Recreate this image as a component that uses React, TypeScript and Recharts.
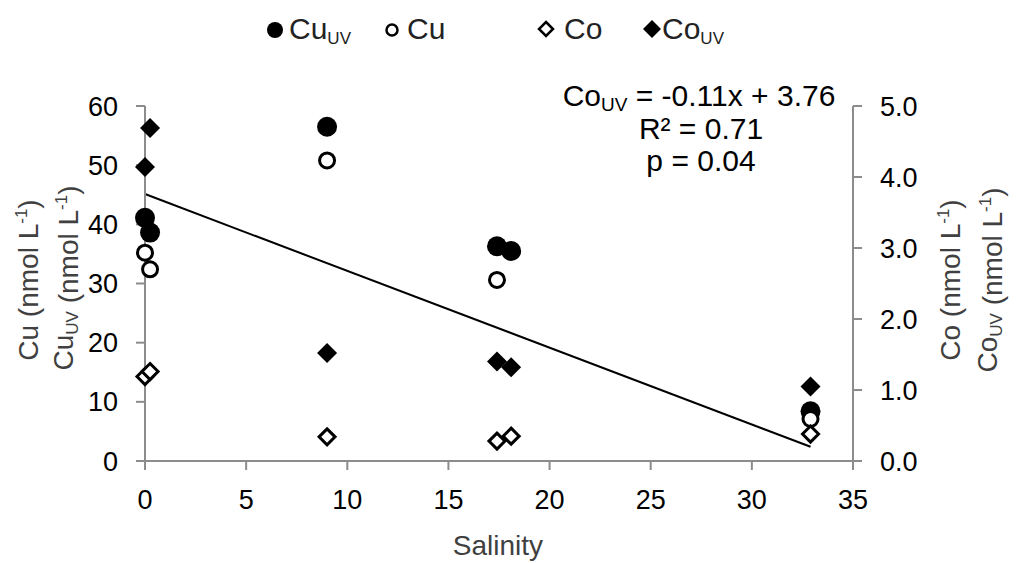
import { ScatterChart, Scatter, XAxis, YAxis, ReferenceLine } from 'recharts';

const FONT = '"Liberation Sans", Arial, sans-serif';

// salinity (x) and concentrations
const cuUvSal = [0, 0.25, 9.0, 17.4, 18.1, 32.9];
const cuUvVal = [41.1, 38.6, 56.5, 36.3, 35.5, 8.4];
const cuSal = [0, 0.25, 9.0, 17.4, 32.9];
const cuVal = [35.2, 32.4, 50.8, 30.6, 7.1];
const coSal = [0, 0.25, 9.0, 17.4, 18.1, 32.9];
const coVal = [1.19, 1.26, 0.34, 0.28, 0.35, 0.38];
const coUvSal = [0, 0.25, 9.0, 17.4, 18.1, 32.9];
const coUvVal = [4.14, 4.69, 1.52, 1.4, 1.32, 1.05];

// Co_UV trendline ends
const trendSal = [0, 32.9];
const trendVal = [3.76, 0.2];

const xTicks = [0, 5, 10, 15, 20, 25, 30, 35];
const cuTicks = [0, 10, 20, 30, 40, 50, 60];
const coTicks = [0, 1, 2, 3, 4, 5];

const pts = (xs: number[], ys: number[]) => xs.map((x, i) => ({ x, y: ys[i] }));

const cuUvData = pts(cuUvSal, cuUvVal);
const cuData = pts(cuSal, cuVal);
const coData = pts(coSal, coVal);
const coUvData = pts(coUvSal, coUvVal);

const filledCircle = (p: any) => <circle cx={p.cx} cy={p.cy} r={10} fill="#000" />;
const openCircle = (p: any) => (
  <circle cx={p.cx} cy={p.cy} r={7.5} fill="#fff" stroke="#000" strokeWidth={3} />
);
const diamond = (cx: number, cy: number, h: number) =>
  `${cx},${cy - h} ${cx + h},${cy} ${cx},${cy + h} ${cx - h},${cy}`;
const filledDiamond = (p: any) => <polygon points={diamond(p.cx, p.cy, 10)} fill="#000" />;
const openDiamond = (p: any) => (
  <polygon points={diamond(p.cx, p.cy, 8)} fill="#fff" stroke="#000" strokeWidth={3} />
);

const axisStroke = { stroke: '#8c8c8c', strokeWidth: 2 };
const tickStyle = { fill: '#000', fontSize: 27, fontFamily: FONT };

const Unit = () => (
  <>
    {' (nmol L'}
    <tspan fontSize={17} dy={-11}>-1</tspan>
    <tspan dy={11}>)</tspan>
  </>
);

export default function App() {
  return (
    <div style={{ position: 'absolute', left: 0, top: 0, width: 1018, height: 563, background: '#fff' }}>
      <ScatterChart width={1018} height={563} margin={{ top: 106, right: 85, bottom: 52, left: 65 }}>
        <XAxis
          type="number"
          dataKey="x"
          domain={[0, 35]}
          ticks={xTicks}
          height={50}
          tickSize={9}
          tickMargin={20}
          axisLine={axisStroke}
          tickLine={axisStroke}
          tick={tickStyle}
        />
        <YAxis
          yAxisId="cu"
          type="number"
          dataKey="y"
          domain={[0, 60]}
          ticks={cuTicks}
          width={80}
          tickSize={9}
          tickMargin={18}
          axisLine={axisStroke}
          tickLine={axisStroke}
          tick={tickStyle}
        />
        <YAxis
          yAxisId="co"
          orientation="right"
          type="number"
          dataKey="y"
          domain={[0, 5]}
          ticks={coTicks}
          width={80}
          tickSize={9}
          tickMargin={18}
          tickFormatter={(v: number) => v.toFixed(1)}
          axisLine={axisStroke}
          tickLine={axisStroke}
          tick={{ ...tickStyle, textAnchor: 'start' }}
        />
        <ReferenceLine
          yAxisId="co"
          segment={[
            { x: trendSal[0], y: trendVal[0] },
            { x: trendSal[1], y: trendVal[1] },
          ]}
          stroke="#000"
          strokeWidth={2}
        />
        <Scatter yAxisId="cu" data={cuUvData} shape={filledCircle} isAnimationActive={false} />
        <Scatter yAxisId="cu" data={cuData} shape={openCircle} isAnimationActive={false} />
        <Scatter yAxisId="co" data={coData} shape={openDiamond} isAnimationActive={false} />
        <Scatter yAxisId="co" data={coUvData} shape={filledDiamond} isAnimationActive={false} />
      </ScatterChart>

      <svg
        width={1018}
        height={563}
        style={{ position: 'absolute', left: 0, top: 0, pointerEvents: 'none' }}
        fontFamily={FONT}
      >
        {/* legend */}
        <g fontSize={30} fill="#222">
          <circle cx={275} cy={30} r={8} fill="#000" />
          <text x={289} y={39}>
            Cu<tspan fontSize={17} dy={5}>UV</tspan>
          </text>
          <circle cx={392} cy={30} r={5.5} fill="#fff" stroke="#000" strokeWidth={2.5} />
          <text x={407} y={39}>Cu</text>
          <polygon points={diamond(546, 29, 7)} fill="#fff" stroke="#000" strokeWidth={2.5} />
          <text x={564} y={39}>Co</text>
          <polygon points={diamond(652, 29, 9)} fill="#000" />
          <text x={662} y={39}>
            Co<tspan fontSize={17} dy={5}>UV</tspan>
          </text>
        </g>

        {/* regression annotation */}
        <g fontSize={30} fill="#000" textAnchor="middle">
          <text x={699} y={106}>
            Co<tspan fontSize={19} dy={5}>UV</tspan>
            <tspan dy={-5}> = -0.11x + 3.76</tspan>
          </text>
          <text x={701} y={139}>R² = 0.71</text>
          <text x={701} y={171}>p = 0.04</text>
        </g>

        {/* axis titles */}
        <g fontSize={28} fill="#404040" textAnchor="middle">
          <text x={498} y={555}>Salinity</text>
          <text x={38} y={280} transform="rotate(-90 38 280)">
            Cu<Unit />
          </text>
          <text x={73} y={278} transform="rotate(-90 73 278)">
            Cu<tspan fontSize={17} dy={5}>UV</tspan>
            <tspan dy={-5}></tspan>
            <Unit />
          </text>
          <text x={960} y={280} transform="rotate(-90 960 280)">
            Co<Unit />
          </text>
          <text x={997} y={280} transform="rotate(-90 997 280)">
            Co<tspan fontSize={17} dy={5}>UV</tspan>
            <tspan dy={-5}></tspan>
            <Unit />
          </text>
        </g>
      </svg>
    </div>
  );
}
